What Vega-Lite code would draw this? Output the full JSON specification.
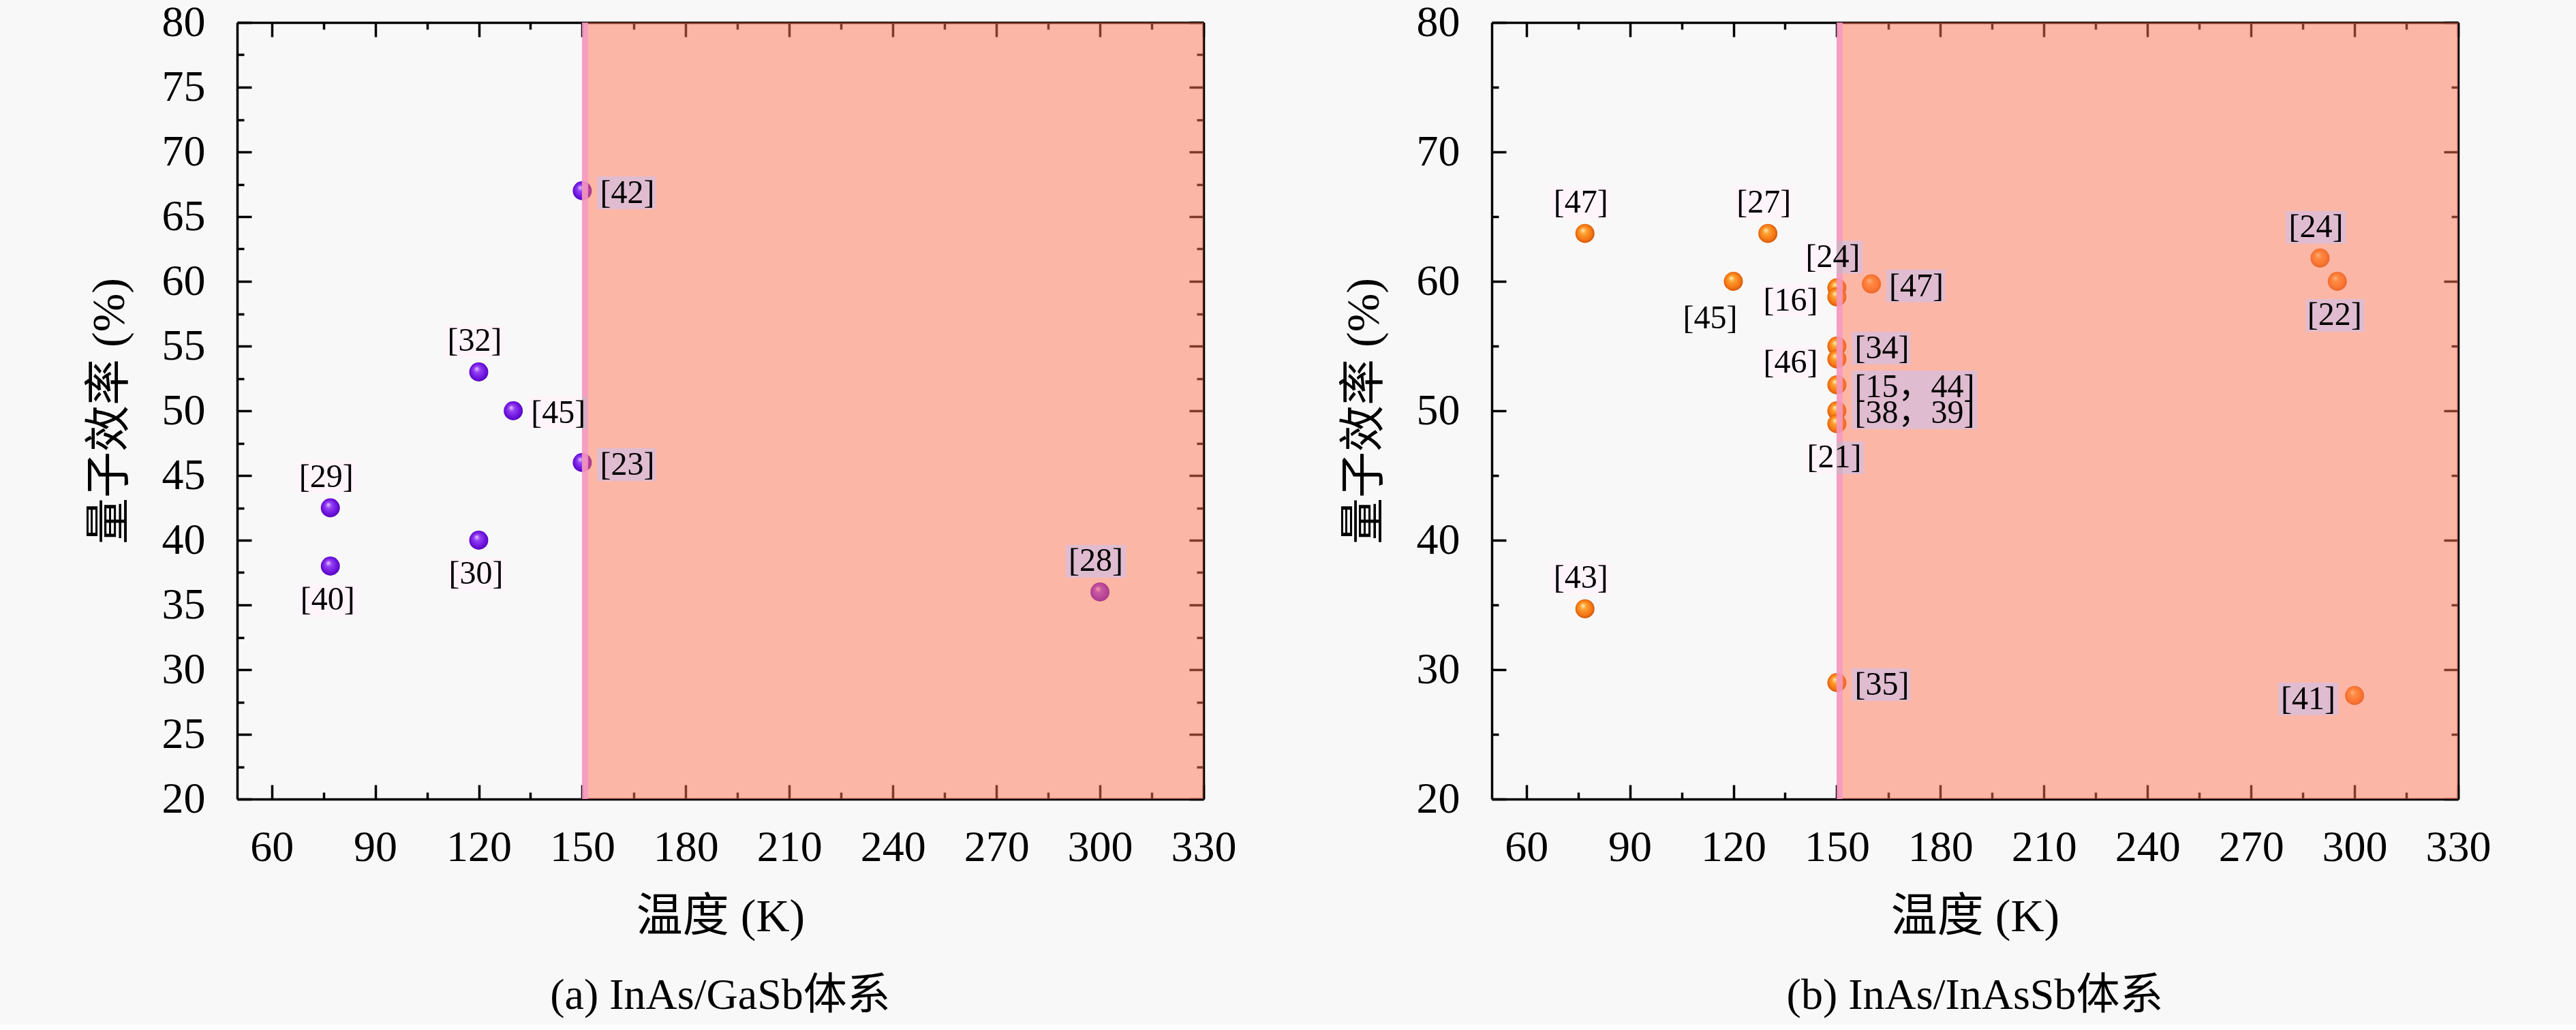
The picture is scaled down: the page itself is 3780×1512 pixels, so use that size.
{
  "$schema": "https://vega.github.io/schema/vega-lite/v6.json",
  "background": "#f8f8f8",
  "padding": {"left": 127, "top": 1, "right": 126, "bottom": 10},
  "datasets": {
    "shade": [{"x1": 150, "x2": 330}],
    "gasb": [
      {"T": 150, "QE": 67, "label": "[42]", "pos": "r"},
      {"T": 120, "QE": 53, "label": "[32]", "pos": "t"},
      {"T": 130, "QE": 50, "label": "[45]", "pos": "r"},
      {"T": 150, "QE": 46, "label": "[23]", "pos": "r"},
      {"T": 77, "QE": 42.5, "label": "[29]", "pos": "t"},
      {"T": 77, "QE": 38, "label": "[40]", "pos": "b"},
      {"T": 120, "QE": 40, "label": "[30]", "pos": "b"},
      {"T": 300, "QE": 36, "label": "[28]", "pos": "t"}
    ],
    "inassb": [
      {"T": 77, "QE": 63.7, "label": "[47]", "pos": "t"},
      {"T": 130, "QE": 63.7, "label": "[27]", "pos": "t"},
      {"T": 120, "QE": 60, "label": "[45]", "pos": "bl"},
      {"T": 150, "QE": 59.5, "label": "[24]", "pos": "t"},
      {"T": 150, "QE": 58.8, "label": "[16]", "pos": "l"},
      {"T": 160, "QE": 59.8, "label": "[47]", "pos": "r"},
      {"T": 150, "QE": 55, "label": "[34]", "pos": "r"},
      {"T": 150, "QE": 54, "label": "[46]", "pos": "l"},
      {"T": 150, "QE": 52, "label": "[15，44]", "pos": "r"},
      {"T": 150, "QE": 50, "label": "[38，39]", "pos": "r"},
      {"T": 150, "QE": 49, "label": "[21]", "pos": "b"},
      {"T": 150, "QE": 29, "label": "[35]", "pos": "r"},
      {"T": 77, "QE": 34.7, "label": "[43]", "pos": "t"},
      {"T": 290, "QE": 61.8, "label": "[24]", "pos": "t"},
      {"T": 295, "QE": 60, "label": "[22]", "pos": "b"},
      {"T": 300, "QE": 28, "label": "[41]", "pos": "l"}
    ]
  },
  "config": {
    "view": {"stroke": null},
    "axis": {"grid": false, "tickColor": "black", "tickWidth": 3.5, "domainColor": "black", "domainWidth": 3.5, "zindex": 1, "labelFlush": false, "labelOverlap": false}
  },
  "bounds": "flush",
  "spacing": 423,
  "hconcat": [
    {
      "width": 1418,
      "height": 1140,
      "title": {"text": "(a) InAs/GaSb体系", "orient": "bottom", "anchor": "middle", "frame": "group", "font": "'Liberation Serif','Noto Sans CJK SC'", "fontSize": 64, "fontWeight": "normal", "color": "black", "offset": 50},
      "resolve": {"axis": {"x": "independent", "y": "independent"}},
      "layer": [
        {
          "data": {"name": "gasb"},
          "mark": {"type": "point", "filled": true, "size": 780, "shape": "circle", "opacity": 1, "strokeWidth": 0,
            "fill": {"gradient": "radial", "x1": 0.38, "y1": 0.32, "r1": 0, "x2": 0.5, "y2": 0.5, "r2": 0.55,
              "stops": [{"offset": 0, "color": "#e8c8ff"}, {"offset": 0.3, "color": "#9440f2"}, {"offset": 0.75, "color": "#6a10dc"}, {"offset": 1, "color": "#4a00a8"}]}},
          "encoding": {
            "x": {"field": "T", "type": "quantitative", "scale": {"domain": [50, 330], "nice": false, "zero": false}, "axis": null},
            "y": {"field": "QE", "type": "quantitative", "scale": {"domain": [20, 80], "nice": false, "zero": false},
              "axis": {"orient": "left", "values": [20, 25, 30, 35, 40, 45, 50, 55, 60, 65, 70, 75, 80], "tickSize": -21, "labelFont": "'Liberation Serif','Noto Sans CJK SC'", "labelFontSize": 64, "labelColor": "black", "labelPadding": 68,
                "title": "量子效率 (%)", "titleFont": "'Liberation Serif','Noto Sans CJK SC'", "titleFontSize": 68, "titleFontWeight": "normal", "titleColor": "black", "titlePadding": 42}}
          }
        },
        {
          "data": {"name": "shade"},
          "mark": {"type": "rect", "color": "#ff7351", "opacity": 0.5},
          "encoding": {
            "x": {"field": "x1", "type": "quantitative", "scale": {"domain": [50, 330], "nice": false, "zero": false},
              "axis": {"orient": "bottom", "values": [60, 90, 120, 150, 180, 210, 240, 270, 300, 330], "tickSize": -21, "labelFont": "'Liberation Serif','Noto Sans CJK SC'", "labelFontSize": 64, "labelColor": "black", "labelPadding": 60,
                "title": "温度 (K)", "titleFont": "'Liberation Serif','Noto Sans CJK SC'", "titleFontSize": 68, "titleFontWeight": "normal", "titleColor": "black", "titlePadding": 36}},
            "x2": {"field": "x2"}
          }
        },
        {
          "data": {"name": "shade"},
          "mark": {"type": "rule", "color": "#f49ac6", "strokeWidth": 9, "opacity": 0.85, "xOffset": 4},
          "encoding": {
            "x": {"field": "x1", "type": "quantitative", "scale": {"domain": [50, 330], "nice": false, "zero": false},
              "axis": {"orient": "top", "values": [60, 90, 120, 150, 180, 210, 240, 270, 300, 330], "tickSize": -21, "labels": false, "title": null}}
          }
        },
        {
          "data": {"name": "gasb"},
          "transform": [{"filter": "datum.pos === 'r' && length(datum.label) <= 4"}],
          "mark": {"type": "rect", "color": "#e6c2d6", "blend": "color", "xOffset": 22, "x2Offset": 108, "yOffset": -21, "y2Offset": 27},
          "encoding": {
            "x": {"field": "T", "type": "quantitative", "scale": {"domain": [50, 330], "nice": false, "zero": false},
              "axis": {"orient": "bottom", "values": [75, 105, 135, 165, 195, 225, 255, 285, 315], "tickSize": -10, "labels": false, "domain": false, "title": null}},
            "x2": {"field": "T"},
            "y": {"field": "QE", "type": "quantitative", "scale": {"domain": [20, 80], "nice": false, "zero": false},
              "axis": {"orient": "left", "values": [22.5, 27.5, 32.5, 37.5, 42.5, 47.5, 52.5, 57.5, 62.5, 67.5, 72.5, 77.5], "tickSize": -10, "labels": false, "domain": false, "title": null}},
            "y2": {"field": "QE"}
          }
        },
        {
          "data": {"name": "gasb"},
          "transform": [{"filter": "datum.pos === 'l'"}],
          "mark": {"type": "rect", "color": "#e6c2d6", "blend": "color", "xOffset": -112, "x2Offset": -24, "yOffset": -19, "y2Offset": 29},
          "encoding": {
            "x": {"field": "T", "type": "quantitative", "scale": {"domain": [50, 330], "nice": false, "zero": false},
              "axis": {"orient": "top", "values": [75, 105, 135, 165, 195, 225, 255, 285, 315], "tickSize": -10, "labels": false, "domain": false, "title": null}},
            "x2": {"field": "T"},
            "y": {"field": "QE", "type": "quantitative", "scale": {"domain": [20, 80], "nice": false, "zero": false},
              "axis": {"orient": "right", "values": [20, 25, 30, 35, 40, 45, 50, 55, 60, 65, 70, 75, 80], "tickSize": -21, "labels": false, "title": null}},
            "y2": {"field": "QE"}
          }
        },
        {
          "data": {"name": "gasb"},
          "transform": [{"filter": "datum.pos === 't'"}],
          "mark": {"type": "rect", "color": "#e6c2d6", "blend": "color", "xOffset": -50, "x2Offset": 38, "yOffset": -69, "y2Offset": -21},
          "encoding": {
            "x": {"field": "T", "type": "quantitative", "scale": {"domain": [50, 330], "nice": false, "zero": false}, "axis": null},
            "x2": {"field": "T"},
            "y": {"field": "QE", "type": "quantitative", "scale": {"domain": [20, 80], "nice": false, "zero": false},
              "axis": {"orient": "right", "values": [22.5, 27.5, 32.5, 37.5, 42.5, 47.5, 52.5, 57.5, 62.5, 67.5, 72.5, 77.5], "tickSize": -10, "labels": false, "domain": false, "title": null}},
            "y2": {"field": "QE"}
          }
        },
        {
          "data": {"name": "gasb"},
          "transform": [{"filter": "datum.pos === 'b'"}],
          "mark": {"type": "rect", "color": "#e6c2d6", "blend": "color", "xOffset": -46, "x2Offset": 40, "yOffset": 26, "y2Offset": 74},
          "encoding": {
            "x": {"field": "T", "type": "quantitative", "scale": {"domain": [50, 330], "nice": false, "zero": false}, "axis": null},
            "x2": {"field": "T"},
            "y": {"field": "QE", "type": "quantitative", "scale": {"domain": [20, 80], "nice": false, "zero": false}, "axis": null},
            "y2": {"field": "QE"}
          }
        },
        {
          "data": {"name": "gasb"},
          "transform": [{"filter": "datum.pos === 'r'"}],
          "mark": {"type": "text", "font": "'Liberation Serif','Noto Sans CJK SC'", "fontSize": 48, "color": "black", "align": "left", "baseline": "middle", "dx": 26, "dy": 4},
          "encoding": {
            "x": {"field": "T", "type": "quantitative", "scale": {"domain": [50, 330], "nice": false, "zero": false}, "axis": null},
            "y": {"field": "QE", "type": "quantitative", "scale": {"domain": [20, 80], "nice": false, "zero": false}, "axis": null},
            "text": {"field": "label"}
          }
        },
        {
          "data": {"name": "gasb"},
          "transform": [{"filter": "datum.pos === 't'"}],
          "mark": {"type": "text", "font": "'Liberation Serif','Noto Sans CJK SC'", "fontSize": 48, "color": "black", "align": "center", "baseline": "middle", "dx": -6, "dy": -45},
          "encoding": {
            "x": {"field": "T", "type": "quantitative", "scale": {"domain": [50, 330], "nice": false, "zero": false}, "axis": null},
            "y": {"field": "QE", "type": "quantitative", "scale": {"domain": [20, 80], "nice": false, "zero": false}, "axis": null},
            "text": {"field": "label"}
          }
        },
        {
          "data": {"name": "gasb"},
          "transform": [{"filter": "datum.pos === 'b'"}],
          "mark": {"type": "text", "font": "'Liberation Serif','Noto Sans CJK SC'", "fontSize": 48, "color": "black", "align": "center", "baseline": "middle", "dx": -4, "dy": 50},
          "encoding": {
            "x": {"field": "T", "type": "quantitative", "scale": {"domain": [50, 330], "nice": false, "zero": false}, "axis": null},
            "y": {"field": "QE", "type": "quantitative", "scale": {"domain": [20, 80], "nice": false, "zero": false}, "axis": null},
            "text": {"field": "label"}
          }
        }
      ]
    },
    {
      "width": 1418,
      "height": 1140,
      "title": {"text": "(b) InAs/InAsSb体系", "orient": "bottom", "anchor": "middle", "frame": "group", "font": "'Liberation Serif','Noto Sans CJK SC'", "fontSize": 64, "fontWeight": "normal", "color": "black", "offset": 50},
      "resolve": {"axis": {"x": "independent", "y": "independent"}},
      "layer": [
        {
          "data": {"name": "inassb"},
          "mark": {"type": "point", "filled": true, "size": 780, "shape": "circle", "opacity": 1, "strokeWidth": 0,
            "fill": {"gradient": "radial", "x1": 0.38, "y1": 0.32, "r1": 0, "x2": 0.5, "y2": 0.5, "r2": 0.55,
              "stops": [{"offset": 0, "color": "#fff0b8"}, {"offset": 0.3, "color": "#ffa030"}, {"offset": 0.75, "color": "#f27212"}, {"offset": 1, "color": "#c44c00"}]}},
          "encoding": {
            "x": {"field": "T", "type": "quantitative", "scale": {"domain": [50, 330], "nice": false, "zero": false}, "axis": null},
            "y": {"field": "QE", "type": "quantitative", "scale": {"domain": [20, 80], "nice": false, "zero": false},
              "axis": {"orient": "left", "values": [20, 30, 40, 50, 60, 70, 80], "tickSize": -21, "labelFont": "'Liberation Serif','Noto Sans CJK SC'", "labelFontSize": 64, "labelColor": "black", "labelPadding": 68,
                "title": "量子效率 (%)", "titleFont": "'Liberation Serif','Noto Sans CJK SC'", "titleFontSize": 68, "titleFontWeight": "normal", "titleColor": "black", "titlePadding": 42}}
          }
        },
        {
          "data": {"name": "shade"},
          "mark": {"type": "rect", "color": "#ff7351", "opacity": 0.5},
          "encoding": {
            "x": {"field": "x1", "type": "quantitative", "scale": {"domain": [50, 330], "nice": false, "zero": false},
              "axis": {"orient": "bottom", "values": [60, 90, 120, 150, 180, 210, 240, 270, 300, 330], "tickSize": -21, "labelFont": "'Liberation Serif','Noto Sans CJK SC'", "labelFontSize": 64, "labelColor": "black", "labelPadding": 60,
                "title": "温度 (K)", "titleFont": "'Liberation Serif','Noto Sans CJK SC'", "titleFontSize": 68, "titleFontWeight": "normal", "titleColor": "black", "titlePadding": 36}},
            "x2": {"field": "x2"}
          }
        },
        {
          "data": {"name": "shade"},
          "mark": {"type": "rule", "color": "#f49ac6", "strokeWidth": 9, "opacity": 0.85, "xOffset": 4},
          "encoding": {
            "x": {"field": "x1", "type": "quantitative", "scale": {"domain": [50, 330], "nice": false, "zero": false},
              "axis": {"orient": "top", "values": [60, 90, 120, 150, 180, 210, 240, 270, 300, 330], "tickSize": -21, "labels": false, "title": null}}
          }
        },
        {
          "data": {"name": "inassb"},
          "transform": [{"filter": "datum.pos === 'r' && length(datum.label) <= 4"}],
          "mark": {"type": "rect", "color": "#e6c2d6", "blend": "color", "xOffset": 22, "x2Offset": 108, "yOffset": -21, "y2Offset": 27},
          "encoding": {
            "x": {"field": "T", "type": "quantitative", "scale": {"domain": [50, 330], "nice": false, "zero": false},
              "axis": {"orient": "bottom", "values": [75, 105, 135, 165, 195, 225, 255, 285, 315], "tickSize": -10, "labels": false, "domain": false, "title": null}},
            "x2": {"field": "T"},
            "y": {"field": "QE", "type": "quantitative", "scale": {"domain": [20, 80], "nice": false, "zero": false},
              "axis": {"orient": "left", "values": [25, 35, 45, 55, 65, 75], "tickSize": -10, "labels": false, "domain": false, "title": null}},
            "y2": {"field": "QE"}
          }
        },
        {
          "data": {"name": "inassb"},
          "transform": [{"filter": "datum.pos === 'r' && length(datum.label) > 4"}],
          "mark": {"type": "rect", "color": "#e6c2d6", "blend": "color", "xOffset": 22, "x2Offset": 206, "yOffset": -21, "y2Offset": 27},
          "encoding": {
            "x": {"field": "T", "type": "quantitative", "scale": {"domain": [50, 330], "nice": false, "zero": false}, "axis": null},
            "x2": {"field": "T"},
            "y": {"field": "QE", "type": "quantitative", "scale": {"domain": [20, 80], "nice": false, "zero": false}, "axis": null},
            "y2": {"field": "QE"}
          }
        },
        {
          "data": {"name": "inassb"},
          "transform": [{"filter": "datum.pos === 'l'"}],
          "mark": {"type": "rect", "color": "#e6c2d6", "blend": "color", "xOffset": -112, "x2Offset": -24, "yOffset": -19, "y2Offset": 29},
          "encoding": {
            "x": {"field": "T", "type": "quantitative", "scale": {"domain": [50, 330], "nice": false, "zero": false},
              "axis": {"orient": "top", "values": [75, 105, 135, 165, 195, 225, 255, 285, 315], "tickSize": -10, "labels": false, "domain": false, "title": null}},
            "x2": {"field": "T"},
            "y": {"field": "QE", "type": "quantitative", "scale": {"domain": [20, 80], "nice": false, "zero": false},
              "axis": {"orient": "right", "values": [20, 30, 40, 50, 60, 70, 80], "tickSize": -21, "labels": false, "title": null}},
            "y2": {"field": "QE"}
          }
        },
        {
          "data": {"name": "inassb"},
          "transform": [{"filter": "datum.pos === 't'"}],
          "mark": {"type": "rect", "color": "#e6c2d6", "blend": "color", "xOffset": -50, "x2Offset": 38, "yOffset": -69, "y2Offset": -21},
          "encoding": {
            "x": {"field": "T", "type": "quantitative", "scale": {"domain": [50, 330], "nice": false, "zero": false}, "axis": null},
            "x2": {"field": "T"},
            "y": {"field": "QE", "type": "quantitative", "scale": {"domain": [20, 80], "nice": false, "zero": false},
              "axis": {"orient": "right", "values": [25, 35, 45, 55, 65, 75], "tickSize": -10, "labels": false, "domain": false, "title": null}},
            "y2": {"field": "QE"}
          }
        },
        {
          "data": {"name": "inassb"},
          "transform": [{"filter": "datum.pos === 'b'"}],
          "mark": {"type": "rect", "color": "#e6c2d6", "blend": "color", "xOffset": -46, "x2Offset": 40, "yOffset": 26, "y2Offset": 74},
          "encoding": {
            "x": {"field": "T", "type": "quantitative", "scale": {"domain": [50, 330], "nice": false, "zero": false}, "axis": null},
            "x2": {"field": "T"},
            "y": {"field": "QE", "type": "quantitative", "scale": {"domain": [20, 80], "nice": false, "zero": false}, "axis": null},
            "y2": {"field": "QE"}
          }
        },
        {
          "data": {"name": "inassb"},
          "transform": [{"filter": "datum.pos === 'r'"}],
          "mark": {"type": "text", "font": "'Liberation Serif','Noto Sans CJK SC'", "fontSize": 48, "color": "black", "align": "left", "baseline": "middle", "dx": 26, "dy": 4},
          "encoding": {
            "x": {"field": "T", "type": "quantitative", "scale": {"domain": [50, 330], "nice": false, "zero": false}, "axis": null},
            "y": {"field": "QE", "type": "quantitative", "scale": {"domain": [20, 80], "nice": false, "zero": false}, "axis": null},
            "text": {"field": "label"}
          }
        },
        {
          "data": {"name": "inassb"},
          "transform": [{"filter": "datum.pos === 'l'"}],
          "mark": {"type": "text", "font": "'Liberation Serif','Noto Sans CJK SC'", "fontSize": 48, "color": "black", "align": "right", "baseline": "middle", "dx": -28, "dy": 6},
          "encoding": {
            "x": {"field": "T", "type": "quantitative", "scale": {"domain": [50, 330], "nice": false, "zero": false}, "axis": null},
            "y": {"field": "QE", "type": "quantitative", "scale": {"domain": [20, 80], "nice": false, "zero": false}, "axis": null},
            "text": {"field": "label"}
          }
        },
        {
          "data": {"name": "inassb"},
          "transform": [{"filter": "datum.pos === 't'"}],
          "mark": {"type": "text", "font": "'Liberation Serif','Noto Sans CJK SC'", "fontSize": 48, "color": "black", "align": "center", "baseline": "middle", "dx": -6, "dy": -45},
          "encoding": {
            "x": {"field": "T", "type": "quantitative", "scale": {"domain": [50, 330], "nice": false, "zero": false}, "axis": null},
            "y": {"field": "QE", "type": "quantitative", "scale": {"domain": [20, 80], "nice": false, "zero": false}, "axis": null},
            "text": {"field": "label"}
          }
        },
        {
          "data": {"name": "inassb"},
          "transform": [{"filter": "datum.pos === 'b'"}],
          "mark": {"type": "text", "font": "'Liberation Serif','Noto Sans CJK SC'", "fontSize": 48, "color": "black", "align": "center", "baseline": "middle", "dx": -4, "dy": 50},
          "encoding": {
            "x": {"field": "T", "type": "quantitative", "scale": {"domain": [50, 330], "nice": false, "zero": false}, "axis": null},
            "y": {"field": "QE", "type": "quantitative", "scale": {"domain": [20, 80], "nice": false, "zero": false}, "axis": null},
            "text": {"field": "label"}
          }
        },
        {
          "data": {"name": "inassb"},
          "transform": [{"filter": "datum.pos === 'bl'"}],
          "mark": {"type": "text", "font": "'Liberation Serif','Noto Sans CJK SC'", "fontSize": 48, "color": "black", "align": "right", "baseline": "middle", "dx": 6, "dy": 55},
          "encoding": {
            "x": {"field": "T", "type": "quantitative", "scale": {"domain": [50, 330], "nice": false, "zero": false}, "axis": null},
            "y": {"field": "QE", "type": "quantitative", "scale": {"domain": [20, 80], "nice": false, "zero": false}, "axis": null},
            "text": {"field": "label"}
          }
        }
      ]
    }
  ]
}
